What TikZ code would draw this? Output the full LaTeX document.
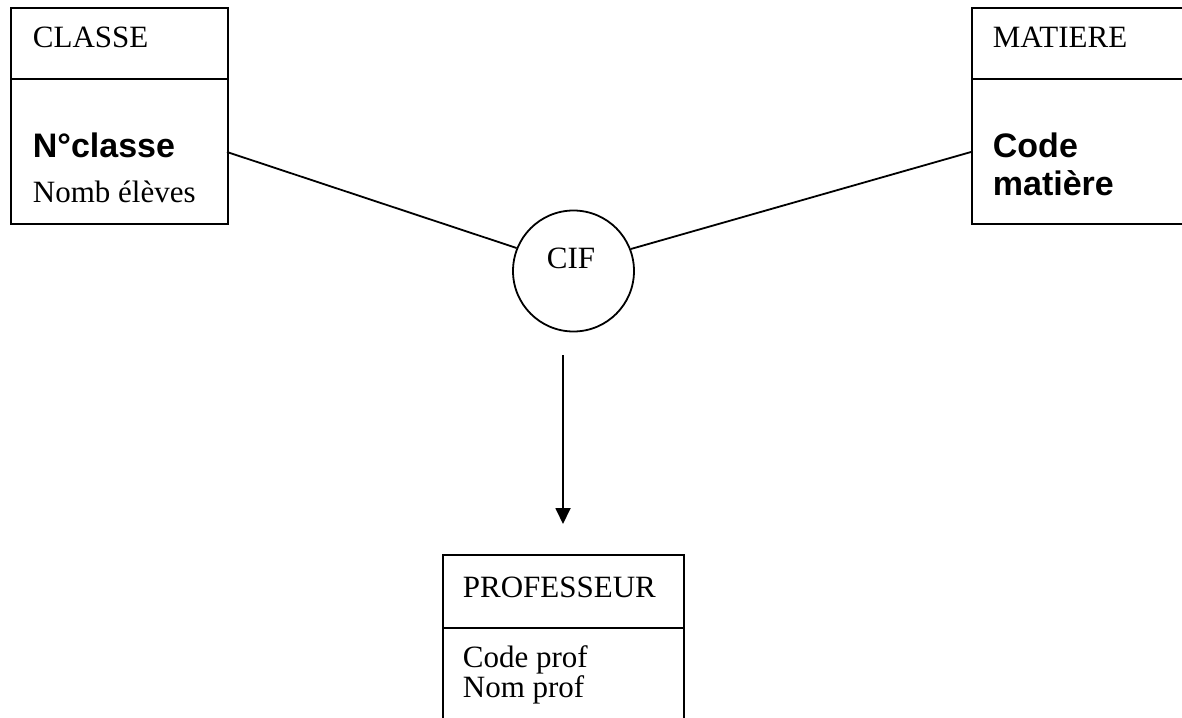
\documentclass[tikz,border=0pt]{standalone}
\usepackage{fontspec}
\setmainfont{Liberation Serif}
\setsansfont{Liberation Sans}
\usetikzlibrary{arrows.meta}
\begin{document}
\begin{tikzpicture}[x=1pt,y=-1pt,line width=1.8pt,
  entity/.style={draw,rectangle,inner sep=0pt,anchor=north west},
  label/.style={anchor=base west,inner sep=0pt,font=\fontsize{31}{37}\selectfont},
  key/.style={anchor=base west,inner sep=0pt,font=\fontsize{34}{40}\selectfont\sffamily\bfseries},
  assoc/.style={draw,circle,inner sep=0pt,minimum size=121pt,font=\fontsize{31}{37}\selectfont},
  link/.style={draw},
  arrowlink/.style={draw,-{Triangle[length=16pt,width=15pt]}}]
\path[use as bounding box] (0,0) rectangle (1182,717);
\clip (0,0) rectangle (1182,717);

% CLASSE entity
\node[entity,minimum width=217pt,minimum height=216pt] (classe) at (10,7) {};
\draw (classe.north west |- 0,79) -- (classe.north east |- 0,79);
\node[label] (classeT) at (32,48) {CLASSE};
\node[key] (classeK) at (32,157) {N°classe};
\node[label] (classeA) at (32,202) {Nomb élèves};

% MATIERE entity (continues past the right edge)
\node[entity,minimum width=260pt,minimum height=216pt] (matiere) at (971,7) {};
\draw (matiere.north west |- 0,79) -- (matiere.north east |- 0,79);
\node[label] (matiereT) at (992,48) {MATIERE};
\node[key] (matiereK1) at (992,157) {Code};
\node[key] (matiereK2) at (992,195) {matière};

% PROFESSEUR entity (continues past the bottom edge)
\node[entity,minimum width=241pt,minimum height=200pt] (prof) at (442,554) {};
\draw (prof.north west |- 0,628) -- (prof.north east |- 0,628);
\node[label] (profT) at (462,597) {PROFESSEUR};
\node[label] (profA1) at (462,667) {Code prof};
\node[label] (profA2) at (462,697) {Nom prof};

% CIF association
\node[assoc] (cif) at (573.5,271) {};
\node[anchor=base,inner sep=0pt,font=\fontsize{31}{37}\selectfont] (cifT) at (571,268) {CIF};

% connectors
\coordinate (classeOut) at (227,152);
\coordinate (matiereOut) at (971,152);
\coordinate (cifOut) at (563,355);
\coordinate (profIn) at (563,524);
\draw[link] (classeOut) -- (cif.158);
\draw[link] (matiereOut) -- (cif.21);
\draw[arrowlink] (cifOut) -- (profIn);
\end{tikzpicture}
\end{document}
